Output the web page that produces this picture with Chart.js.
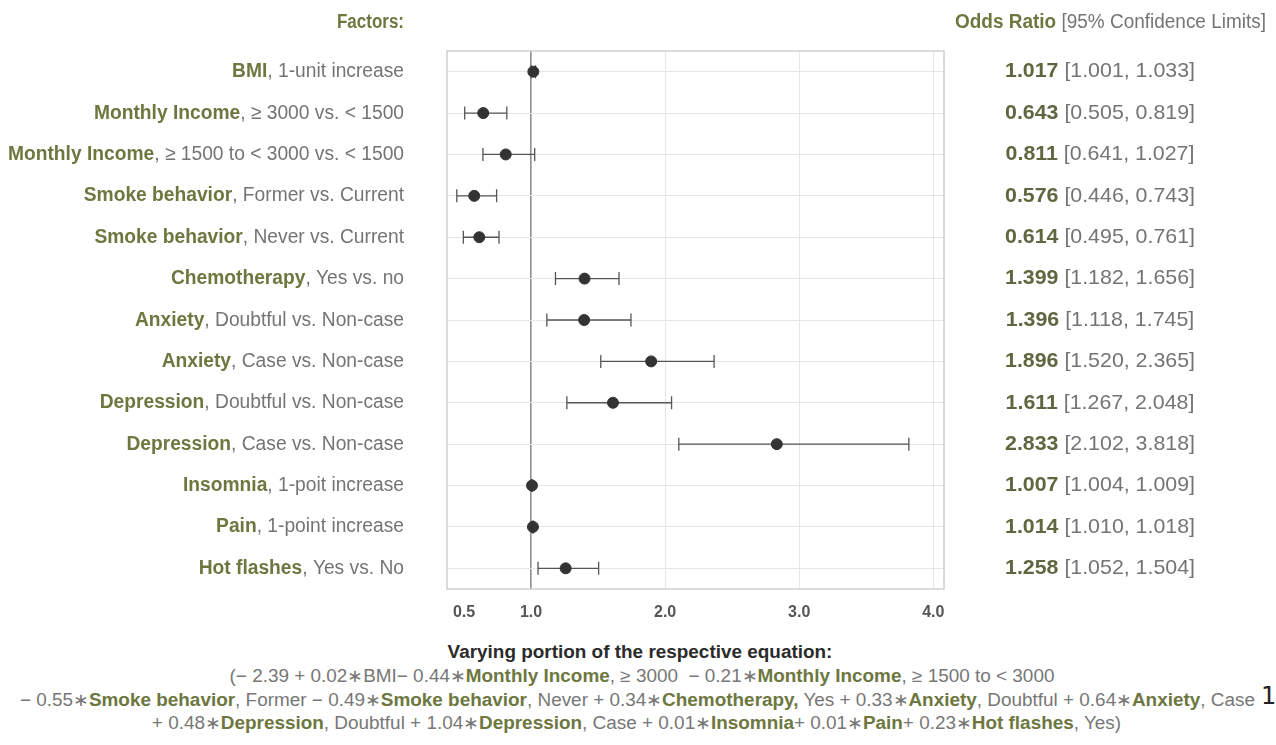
<!DOCTYPE html>
<html>
<head>
<meta charset="utf-8">
<script src="https://cdn.jsdelivr.net/npm/chart.js@4.4.1/dist/chart.umd.min.js"></script>
<style>
  body { margin: 0; background: #fff; width: 1276px; height: 745px; overflow: hidden; position: relative;
         font-family: "Liberation Sans Narrow", "Arial Narrow", "Liberation Sans", Arial, sans-serif; }
  #wrap { position: absolute; left: 0; top: 0; width: 1276px; height: 640px; }
  .ln { position: absolute; left: 0; white-space: nowrap; color: #777; font-size: 18px; line-height: 20px;
        transform-origin: left top; }
  .ln b { color: #6d773f; }
  #eqTitle { color: #2b2b2b; font-weight: bold; }
  #foot { position: absolute; left: 1261px; top: 682px; font: 24px "DejaVu Sans", sans-serif; color: #222; }
</style>
</head>
<body>
<div id="wrap"><canvas id="forest"></canvas></div>

<div class="ln" id="eqTitle" style="top:642px" data-cx="640">Varying portion of the respective equation:</div>
<div class="ln" style="top:666px" data-cx="642">(− 2.39 + 0.02∗BMI− 0.44∗<b>Monthly Income</b>, ≥ 3000 &nbsp;− 0.21∗<b>Monthly Income</b>, ≥ 1500 to &lt; 3000</div>
<div class="ln" id="eqWide" style="top:690px" data-cx="637.5">− 0.55∗<b>Smoke behavior</b>, Former − 0.49∗<b>Smoke behavior</b>, Never + 0.34∗<b>Chemotherapy,</b> Yes + 0.33∗<b>Anxiety</b>, Doubtful + 0.64∗<b>Anxiety</b>, Case</div>
<div class="ln" style="top:713px" data-cx="636.5">+ 0.48∗<b>Depression</b>, Doubtful + 1.04∗<b>Depression</b>, Case + 0.01∗<b>Insomnia</b>+ 0.01∗<b>Pain</b>+ 0.23∗<b>Hot flashes</b>, Yes)</div>
<div id="foot">1</div>

<script>
// factor rows, top to bottom
const factorNames = ['BMI', 'Monthly Income', 'Monthly Income', 'Smoke behavior', 'Smoke behavior',
    'Chemotherapy', 'Anxiety', 'Anxiety', 'Depression', 'Depression', 'Insomnia', 'Pain', 'Hot flashes'];
const factorLevels = [', 1-unit increase', ', ≥ 3000 vs. < 1500', ', ≥ 1500 to < 3000 vs. < 1500',
    ', Former vs. Current', ', Never vs. Current', ', Yes vs. no', ', Doubtful vs. Non-case',
    ', Case vs. Non-case', ', Doubtful vs. Non-case', ', Case vs. Non-case', ', 1-poit increase',
    ', 1-point increase', ', Yes vs. No'];
const oddsRatio = [1.017, 0.643, 0.811, 0.576, 0.614, 1.399, 1.396, 1.896, 1.611, 2.833, 1.007, 1.014, 1.258];
const ciLower   = [1.001, 0.505, 0.641, 0.446, 0.495, 1.182, 1.118, 1.520, 1.267, 2.102, 1.004, 1.010, 1.052];
const ciUpper   = [1.033, 0.819, 1.027, 0.743, 0.761, 1.656, 1.745, 2.365, 2.048, 3.818, 1.009, 1.018, 1.504];
const xTicks = [0.5, 1, 2, 3, 4];

const rowLabels = factorNames.map((n, i) => n + factorLevels[i]);

const OLIVE = '#6d773f';
const GREY = '#747474';
const FONT = '"Liberation Sans Narrow", "Arial Narrow", "Liberation Sans", Arial, sans-serif';

function partWidths(ctx, parts, size) {
    return parts.map(p => {
        ctx.font = (p[1] ? 'bold ' : '') + size + 'px ' + FONT;
        return ctx.measureText(p[0]).width;
    });
}

// squeeze factor that makes parts span the given width
function fitSqueeze(ctx, parts, size, width) {
    return width / partWidths(ctx, parts, size).reduce((a, b) => a + b, 0);
}

// draw a run of [text, bold, colour] parts; align is 'right' or 'center'
function drawParts(ctx, parts, x, y, align, size, squeeze) {
    let widths = partWidths(ctx, parts, size);
    let total = widths.reduce((a, b) => a + b, 0) * squeeze;
    let start = align === 'right' ? x - total : x - total / 2;
    ctx.save();
    ctx.translate(start, y);
    ctx.scale(squeeze, 1);
    ctx.textBaseline = 'middle';
    ctx.textAlign = 'left';
    let cx = 0;
    parts.forEach((p, i) => {
        ctx.font = (p[1] ? 'bold ' : '') + size + 'px ' + FONT;
        ctx.fillStyle = p[2];
        ctx.fillText(p[0], cx, 0);
        cx += widths[i];
    });
    ctx.restore();
}

const leftParts = i => [[factorNames[i], true, OLIVE], [factorLevels[i], false, GREY]];
const rightParts = i => [[oddsRatio[i].toFixed(3), true, '#5f6740'],
    [' [' + ciLower[i].toFixed(3) + ', ' + ciUpper[i].toFixed(3) + ']', false, GREY]];

const forestPlugin = {
    id: 'forestPlugin',
    beforeDatasetsDraw(chart) {
        const { ctx, scales: { x, y } } = chart;
        ctx.save();
        ctx.strokeStyle = '#555';
        ctx.lineWidth = 1.3;
        oddsRatio.forEach((v, i) => {
            let py = y.getPixelForValue(i);
            let x0 = x.getPixelForValue(ciLower[i]);
            let x1 = x.getPixelForValue(ciUpper[i]);
            ctx.beginPath();
            ctx.moveTo(x0, py); ctx.lineTo(x1, py);
            ctx.moveTo(x0, py - 6.5); ctx.lineTo(x0, py + 6.5);
            ctx.moveTo(x1, py - 6.5); ctx.lineTo(x1, py + 6.5);
            ctx.stroke();
        });
        ctx.restore();
    },
    afterDraw(chart) {
        const { ctx, chartArea, scales: { y } } = chart;
        ctx.save();
        ctx.strokeStyle = '#cfcfcf';
        ctx.lineWidth = 1.5;
        ctx.strokeRect(chartArea.left, chartArea.top, chartArea.width, chartArea.height);
        ctx.restore();

        // column widths taken from the original layout
        const sqLeft = fitSqueeze(ctx, leftParts(2), 20, 396);
        const sqRight = fitSqueeze(ctx, rightParts(0), 21, 190);
        const headRight = [['Odds Ratio', true, OLIVE], [' [95% Confidence Limits]', false, GREY]];

        drawParts(ctx, [['Factors:', true, OLIVE]], 404, 22, 'right', 20, 0.85);
        drawParts(ctx, headRight, 1266, 22, 'right', 20, fitSqueeze(ctx, headRight, 20, 311));

        rowLabels.forEach((lab, i) => {
            let py = y.getPixelForValue(i);
            drawParts(ctx, leftParts(i), 404, py, 'right', 20, sqLeft);
            drawParts(ctx, rightParts(i), 1100, py, 'center', 21, sqRight);
        });
    }
};

new Chart(document.getElementById('forest'), {
    type: 'scatter',
    data: {
        labels: rowLabels,
        datasets: [{
            data: oddsRatio.map((v, i) => ({ x: v, y: rowLabels[i] })),
            backgroundColor: '#333333',
            borderColor: '#333333',
            pointRadius: 5.5,
            pointHoverRadius: 5.5
        }]
    },
    options: {
        animation: false,
        responsive: true,
        maintainAspectRatio: false,
        layout: {
            padding: { left: 447, right: 332, top: 51, bottom: 21 }
        },
        scales: {
            x: {
                type: 'linear',
                min: 0.373,
                max: 4.08,
                afterBuildTicks: s => { s.ticks = xTicks.map(v => ({ value: v })); },
                afterFit: s => { s.height = 30; },
                border: { display: false },
                grid: {
                    drawTicks: false,
                    lineWidth: c => (c.tick && c.tick.value === 1 ? 1.6 : 1),
                    color: c => {
                        if (!c.tick) return '#e6e6e6';
                        if (c.tick.value === 1) return '#8e8e8e';
                        if (c.tick.value === 0.5) return 'rgba(0,0,0,0)';
                        return '#e6e6e6';
                    }
                },
                ticks: {
                    padding: 14,
                    color: '#555',
                    font: { family: FONT, size: 16, weight: 'bold' },
                    callback: v => Number(v).toFixed(1)
                }
            },
            y: {
                type: 'category',
                labels: rowLabels,
                offset: true,
                afterFit: s => { s.width = 0; },
                border: { display: false },
                grid: { offset: false, drawTicks: false, color: '#e6e6e6' },
                ticks: { display: false }
            }
        },
        plugins: {
            legend: { display: false },
            tooltip: { enabled: false }
        }
    },
    plugins: [forestPlugin]
});

// one squeeze for all equation lines, set by the widest line
const k = 1235 / document.getElementById('eqWide').getBoundingClientRect().width;
document.querySelectorAll('.ln').forEach(el => {
    const w = el.getBoundingClientRect().width * k;
    const x0 = +el.dataset.cx - w / 2;
    el.style.transform = 'translateX(' + x0 + 'px) scaleX(' + k + ')';
});
</script>
</body>
</html>
